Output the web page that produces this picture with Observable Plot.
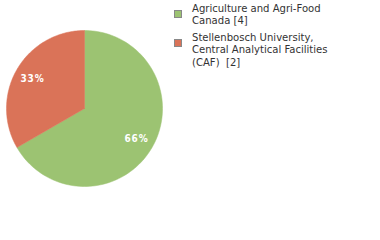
<!DOCTYPE html>
<html><head><meta charset="utf-8">
<script src="https://cdn.jsdelivr.net/npm/d3@7"></script>
<script src="https://cdn.jsdelivr.net/npm/@observablehq/plot@0.6"></script>
<style>
body{margin:0;background:#fff;}
#wrap{position:relative;width:380px;height:240px;overflow:hidden;}
#chart svg text{letter-spacing:0.8px;}
#legend{position:absolute;left:174px;top:3px;font-family:"DejaVu Sans Condensed","DejaVu Sans",sans-serif;font-size:11.2px;line-height:12.3px;color:#333;}
.item{position:relative;padding-left:18px;margin-bottom:4.5px;}
.sw{position:absolute;left:0;top:7px;width:6px;height:6px;border:1px solid #888;}
</style></head>
<body><div id="wrap"><div id="chart"></div><div id="legend"></div></div>
<script>
const categories = ["Agriculture and Agri-Food Canada [4]", "Stellenbosch University, Central Analytical Facilities (CAF)  [2]"];
const legendLines = [["Agriculture and Agri-Food", "Canada [4]"], ["Stellenbosch University,", "Central Analytical Facilities", "(CAF)  [2]"]];
const values = [4, 2];
const percentLabels = ["66%", "33%"];
const colors = ["#9cc372", "#da7358"];

const W = 380, H = 240, cx = 84, cy = 108, R = 78;
const total = d3.sum(values);
const pts = [], labels = [];
let start = 0;
values.forEach((v, i) => {
  const end = start + v / total * 2 * Math.PI;
  pts.push({k: i, x: 0, y: 0});
  const n = 120;
  for (let j = 0; j <= n; j++) {
    const a = start + (end - start) * j / n;
    pts.push({k: i, x: Math.sin(a), y: Math.cos(a)});
  }
  pts.push({k: i, x: 0, y: 0});
  const m = (start + end) / 2;
  labels.push({x: 0.77 * Math.sin(m), y: 0.77 * Math.cos(m), t: percentLabels[i]});
  start = end;
});

const chart = Plot.plot({
  width: W, height: H, margin: 0,
  x: {domain: [-cx / R, (W - cx) / R], axis: null},
  y: {domain: [-(H - cy) / R, cy / R], axis: null},
  marks: [
    Plot.line(pts, {x: "x", y: "y", z: "k", fill: d => colors[d.k], stroke: d => colors[d.k], strokeWidth: 0.5, curve: "linear"}),
    Plot.text(labels, {x: "x", y: "y", text: "t", fill: "white", fontSize: 10, fontWeight: "bold", fontFamily: "DejaVu Sans Condensed, DejaVu Sans, sans-serif"})
  ]
});
document.getElementById("chart").appendChild(chart);

const lg = document.getElementById("legend");
legendLines.forEach((lines, i) => {
  const it = document.createElement("div");
  it.className = "item";
  it.innerHTML = `<span class="sw" style="background:${colors[i]}"></span>` + lines.map(l => `<div>${l.replace(/  /g, " &nbsp;")}</div>`).join("");
  lg.appendChild(it);
});
</script></body></html>
